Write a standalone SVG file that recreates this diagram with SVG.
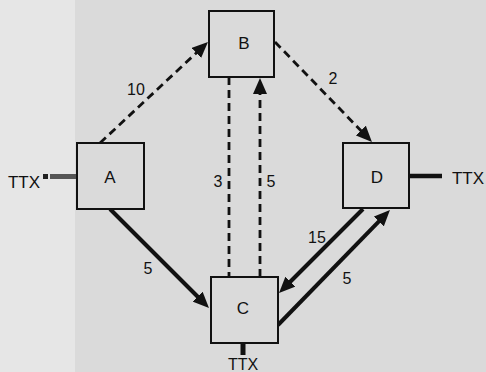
<svg xmlns="http://www.w3.org/2000/svg" width="486" height="372" viewBox="0 0 486 372">
<style>
.bg{fill:#dadada}
.box{fill:#dadada;stroke:#111;stroke-width:2}
.lbl{font-family:"Liberation Sans",Arial,sans-serif;font-size:17px;fill:#111;text-anchor:middle}
.num{font-family:"Liberation Sans",Arial,sans-serif;font-size:16px;fill:#111;text-anchor:middle}
.dash{fill:none;stroke:#111;stroke-width:2.8;stroke-dasharray:8 5}
.solid{fill:none;stroke:#111;stroke-width:4}
.ttx{stroke:#111;stroke-width:4.5}
</style>
<defs>
<marker id="ah" markerUnits="userSpaceOnUse" markerWidth="16" markerHeight="14" refX="4" refY="7" orient="auto">
<path d="M0,0 L16,7 L0,14 z" fill="#111"/>
</marker>
</defs>
<rect class="bg" x="0" y="0" width="486" height="372"/>
<rect x="0" y="0" width="75" height="372" fill="#e6e6e6"/>
<g id="connectors">
<path class="dash" d="M100,143 L199.2,50.2" marker-end="url(#ah)"/>
<path class="dash" d="M275,42 L363.6,133.4" marker-end="url(#ah)"/>
<path class="dash" d="M229,77 L229,277"/>
<path class="dash" d="M260,277 L260,90" marker-end="url(#ah)"/>
<path class="solid" d="M110,209 L200.5,299.5" marker-end="url(#ah)"/>
<path class="solid" d="M363,209 L287.5,284.5" marker-end="url(#ah)"/>
<path class="solid" d="M278,325 L381.6,218.6" marker-end="url(#ah)"/>
<text class="num" x="136" y="95">10</text>
<text class="num" x="333" y="84">2</text>
<text class="num" x="218" y="187">3</text>
<text class="num" x="271" y="187">5</text>
<text class="num" x="148" y="274">5</text>
<text class="num" x="317" y="243">15</text>
<text class="num" x="347" y="284">5</text>
</g>
<g id="ttx-left">
<rect x="43" y="174" width="5" height="5" fill="#222"/>
<line x1="50" y1="176.5" x2="77" y2="176.5" stroke="#555" stroke-width="5"/>
<text class="lbl" x="24" y="188">TTX</text>
</g>
<g id="ttx-right">
<line class="ttx" x1="409" y1="176" x2="442" y2="176"/>
<text class="lbl" x="468" y="184">TTX</text>
</g>
<g id="ttx-bottom">
<line x1="243" y1="343" x2="243" y2="355" stroke="#111" stroke-width="5"/>
<text class="lbl" x="243" y="370" style="font-size:16px">TTX</text>
</g>
<g id="A">
<rect class="box" x="77" y="143" width="67" height="66"/>
<text class="lbl" x="110" y="183">A</text>
</g>
<g id="B">
<rect class="box" x="209" y="11" width="65" height="66"/>
<text class="lbl" x="244" y="49">B</text>
</g>
<g id="C">
<rect class="box" x="211" y="277" width="67" height="66"/>
<text class="lbl" x="243" y="314">C</text>
</g>
<g id="D">
<rect class="box" x="343" y="143" width="66" height="65"/>
<text class="lbl" x="377" y="183">D</text>
</g>
</svg>
